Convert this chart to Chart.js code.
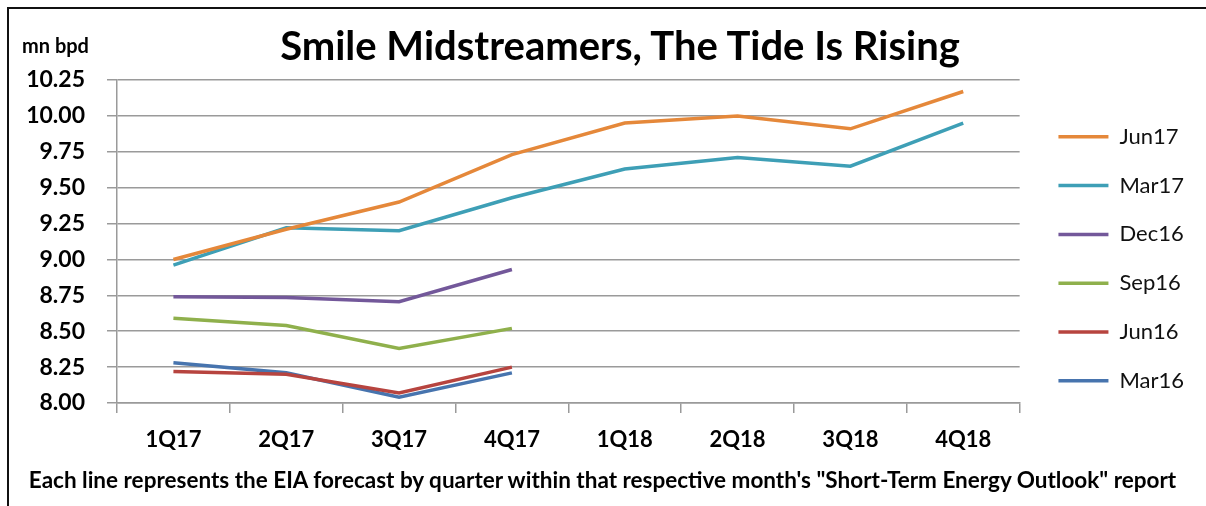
<!DOCTYPE html>
<html>
<head>
<meta charset="utf-8">
<script src="https://cdn.jsdelivr.net/npm/chart.js@4"></script>
<style>
    html, body { margin: 0; padding: 0; background: #fff; }
    #wrap { position: relative; width: 1206px; height: 506px; overflow: hidden; font-family: Lato, "Open Sans", sans-serif; }
    #frame { position: absolute; left: 7px; top: 7px; width: 1300px; height: 520px; border-left: 2px solid #111; border-top: 2px solid #111; box-sizing: border-box; }
    #chart { position: absolute; left: 0; top: 0; }
    .txt { position: absolute; font-weight: bold; color: #000; white-space: nowrap; line-height: 1.2; }
    #title { left: 0; width: 1240px; top: 21px; font-size: 40px; text-align: center; }
    #unit { left: 22px; top: 33px; font-size: 20px; }
    #caption { left: 0; width: 1205px; top: 466px; font-size: 22.5px; text-align: center; }
</style>
</head>
<body>
<div id="wrap">
    <div id="frame"></div>
    <canvas id="chart" width="1206" height="506"></canvas>
    <div class="txt" id="title">Smile Midstreamers, The Tide Is Rising</div>
    <div class="txt" id="unit">mn bpd</div>
    <div class="txt" id="caption">Each line represents the EIA forecast by quarter within that respective month's "Short-Term Energy Outlook" report</div>
</div>
<script>
    // Données (prévisions EIA, mn bpd)
    const quarters = ['1Q17', '2Q17', '3Q17', '4Q17', '1Q18', '2Q18', '3Q18', '4Q18'];
    const jun17 = [9.00, 9.21, 9.40, 9.73, 9.95, 10.00, 9.91, 10.17];
    const mar17 = [8.96, 9.22, 9.20, 9.43, 9.63, 9.71, 9.65, 9.95];
    const dec16 = [8.74, 8.735, 8.705, 8.93];
    const sep16 = [8.59, 8.54, 8.38, 8.52];
    const jun16 = [8.22, 8.20, 8.07, 8.25];
    const mar16 = [8.28, 8.21, 8.04, 8.21];
    const yTicks = [8.00, 8.25, 8.50, 8.75, 9.00, 9.25, 9.50, 9.75, 10.00, 10.25];

    const seriesNames = ['Jun17', 'Mar17', 'Dec16', 'Sep16', 'Jun16', 'Mar16'];
    const seriesData = [jun17, mar17, dec16, sep16, jun16, mar16];
    const seriesColors = ['#E5883A', '#3E9FB6', '#73589A', '#8FB04C', '#B7443F', '#4774AE'];

    const gridColor = '#9a9a9a';

    const datasets = seriesNames.map((name, i) => ({
        label: name,
        data: seriesData[i],
        borderColor: seriesColors[i],
        backgroundColor: seriesColors[i],
        borderWidth: 3.5,
        pointRadius: 0,
        tension: 0,
        fill: false
    }));

    new Chart(document.getElementById('chart').getContext('2d'), {
        type: 'line',
        data: { labels: quarters, datasets: datasets },
        options: {
            responsive: false,
            animation: false,
            layout: { padding: { top: 80, bottom: 0, left: 0, right: 12 } },
            scales: {
                x: {
                    offset: true,
                    grid: { offset: true, drawOnChartArea: false, drawTicks: true, tickLength: 10, color: gridColor, lineWidth: 1.5 },
                    border: { display: true, color: gridColor, width: 1.5 },
                    ticks: { color: '#000', padding: 14, font: { family: 'Lato', size: 22, weight: 'bold' } },
                    afterFit: s => { s.height = 103; }
                },
                y: {
                    min: 8,
                    max: 10.25,
                    afterBuildTicks: s => { s.ticks = yTicks.map(v => ({ value: v })); },
                    grid: { color: gridColor, lineWidth: 1.5, tickLength: 10 },
                    border: { display: true, color: gridColor, width: 1.5 },
                    ticks: {
                        color: '#000',
                        padding: 22,
                        font: { family: 'Lato', size: 23, weight: 'bold' },
                        callback: v => Number(v).toFixed(2)
                    },
                    afterFit: s => { s.width = 117; }
                },
                // axe fantôme pour écarter la légende du graphique
                yR: {
                    position: 'right',
                    display: true,
                    grid: { display: false },
                    border: { display: false },
                    ticks: { display: false },
                    afterFit: s => { s.width = 12; }
                }
            },
            plugins: {
                legend: {
                    position: 'right',
                    align: 'start',
                    // titre vide : sert seulement à descendre les entrées
                    title: { display: true, text: ' ', font: { size: 10 }, padding: { top: 7, bottom: 0 } },
                    labels: {
                        usePointStyle: true,
                        pointStyle: 'line',
                        pointStyleWidth: 50,
                        padding: 26.8,
                        color: '#111',
                        font: { family: 'Lato', size: 22 }
                    }
                },
                title: { display: false },
                tooltip: { enabled: false }
            }
        }
    });
</script>
</body>
</html>
